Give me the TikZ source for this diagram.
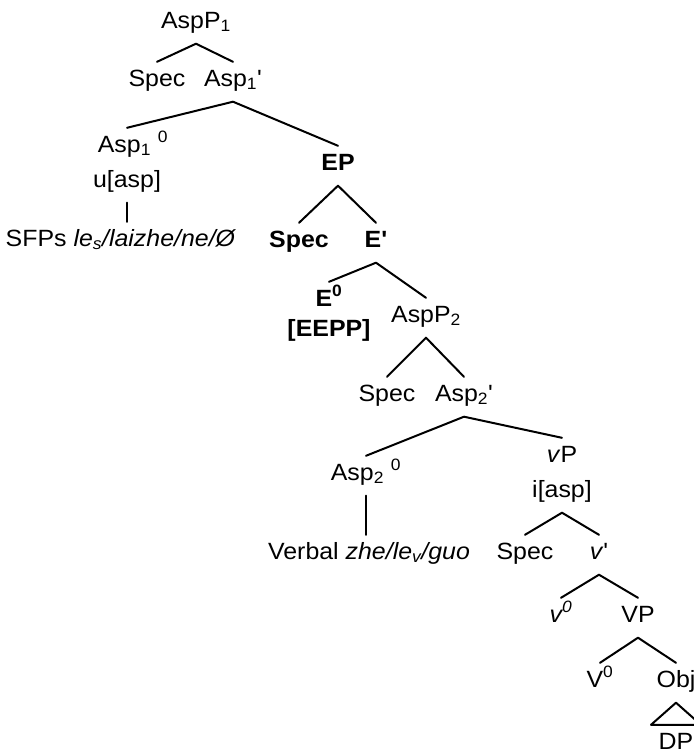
\documentclass[tikz,border=0pt]{standalone}
\usepackage{fontspec}
\setmainfont{Liberation Sans}[Ligatures=TeXOff, FakeStretch=1.06]
\begin{document}
\begin{tikzpicture}[x=1pt,y=-1pt,
  lbl/.style={anchor=base, inner xsep=0pt, inner ysep=9pt,
    text height=15pt, text depth=6.5pt,
    font=\fontsize{23.5}{28}\selectfont},
  boldlbl/.style={lbl, font=\fontsize{23.5}{28}\selectfont\bfseries},
  branch/.style={line width=2pt, line cap=round, line join=round}]
\useasboundingbox (0,0) rectangle (694,753);

% upper aspect projection
\node[lbl] (aspp1)   at (196,28)  {AspP\textsubscript{1}};
\node[lbl] (spec1)   at (157,86)  {Spec};
\node[lbl] (asp1bar) at (233,86)  {Asp\textsubscript{1}'};
\node[lbl] (asp1h)   at (133,152) {Asp\textsubscript{1} \textsuperscript{0}};
\node[lbl] (uasp)    at (127,187) {u[asp]};
\node[lbl] (sfp)     at (121,246) {SFPs \textit{le\textsubscript{s}/laizhe/ne/Ø}};

% evidential projection
\node[boldlbl] (ep)    at (338,170) {EP};
\node[boldlbl] (specE) at (299,247) {Spec};
\node[boldlbl] (ebar)  at (376,247) {E'};
\node[boldlbl] (ehead) at (329,306) {E\textsuperscript{0}};
\node[boldlbl] (eepp)  at (329,336) {[EEPP]};

% lower aspect projection
\node[lbl] (aspp2)   at (426,322) {AspP\textsubscript{2}};
\node[lbl] (spec2)   at (387,401) {Spec};
\node[lbl] (asp2bar) at (464,401) {Asp\textsubscript{2}'};
\node[lbl] (asp2h)   at (366,480) {Asp\textsubscript{2} \textsuperscript{0}};
\node[lbl] (verbal)  at (369,559) {Verbal \textit{zhe/le\textsubscript{v}/guo}};

% light verb and verb phrase
\node[lbl] (vp)    at (562,462) {\textit{v}P};
\node[lbl] (iasp)  at (562,497) {i[asp]};
\node[lbl] (specv) at (525,559) {Spec};
\node[lbl] (vbar)  at (599,559) {\textit{v}'};
\node[lbl] (vhead) at (561,622) {\textit{v\textsuperscript{0}}};
\node[lbl] (VP)    at (638,622) {VP};
\node[lbl] (Vhead) at (600,687) {V\textsuperscript{0}};
\node[lbl] (obj)   at (676,687) {Obj};
\node[lbl] (dp)    at (676,749) {DP};

% branches
\draw[branch] (aspp1.south) -- (spec1.north);
\draw[branch] (aspp1.south) -- (asp1bar.north);
\draw[branch] (asp1bar.south) -- (asp1h.north -| uasp.north);
\draw[branch] (asp1bar.south) -- (ep.north);
\draw[branch] (uasp.south) -- (uasp.south |- sfp.north);

\draw[branch] (ep.south) -- (specE.north);
\draw[branch] (ep.south) -- (ebar.north);
\draw[branch] (ebar.south) -- (ehead.north);
\draw[branch] (ebar.south) -- (aspp2.north);

\draw[branch] (aspp2.south) -- (spec2.north);
\draw[branch] (aspp2.south) -- (asp2bar.north);
\draw[branch] (asp2bar.south) -- (asp2h.north);
\draw[branch] (asp2bar.south) -- (vp.north);
\draw[branch] (asp2h.south) -- (asp2h.south |- verbal.north);

\draw[branch] (iasp.south) -- (specv.north);
\draw[branch] (iasp.south) -- (vbar.north);
\draw[branch] (vbar.south) -- (vhead.north);
\draw[branch] (vbar.south) -- (VP.north);
\draw[branch] (VP.south) -- (Vhead.north);
\draw[branch] (VP.south) -- (obj.north);

% roof over the object
\draw[branch] (obj.south) -- ([xshift=-25pt]dp.north) -- ([xshift=25pt]dp.north) -- cycle;
\end{tikzpicture}
\end{document}
